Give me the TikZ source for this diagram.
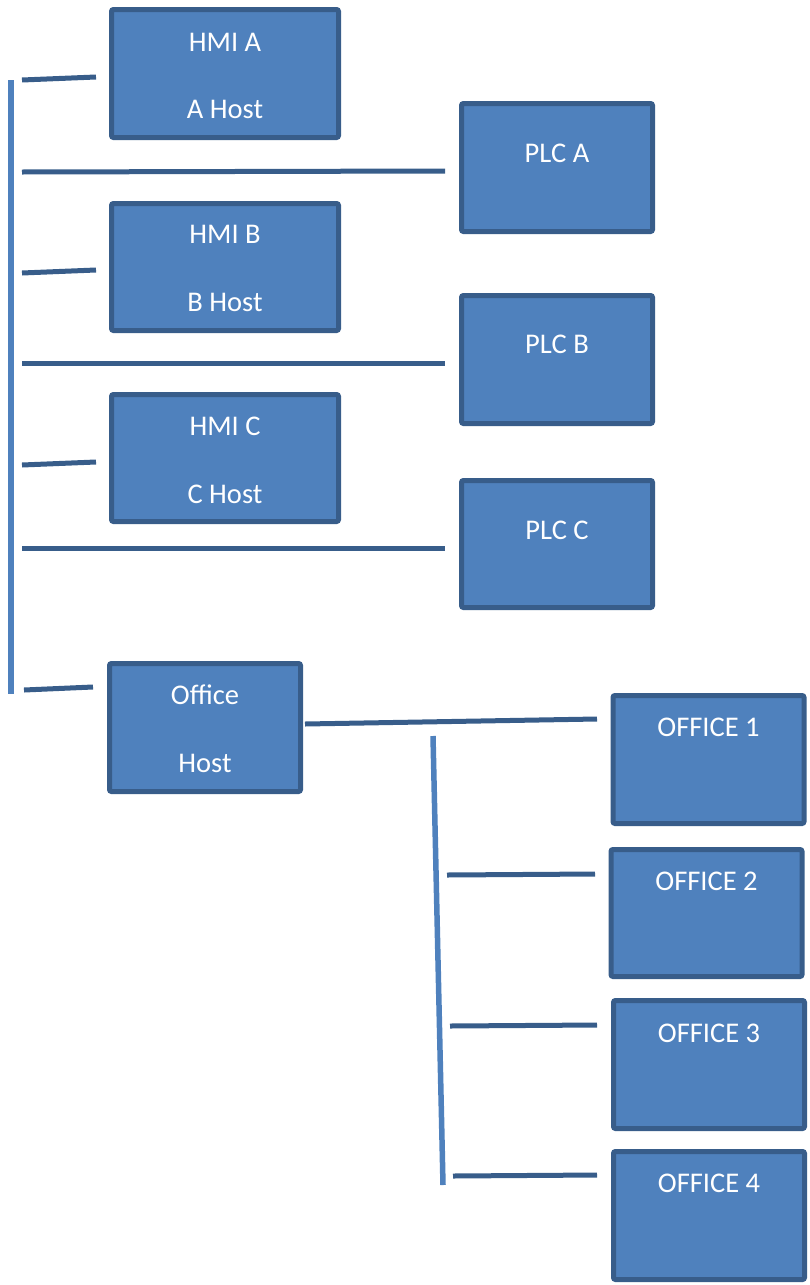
\documentclass[tikz,border=0pt]{standalone}
\usepackage{fontspec}
\setmainfont{Carlito}
\begin{document}
\begin{tikzpicture}[x=1pt,y=-1pt,
  box/.style={draw=edgeblue, fill=fillblue, line width=5pt, rounded corners=2pt,
              inner sep=0pt, minimum width=#1},
  box/.default=227pt,
  txt/.style={text=white, font=\fontsize{28.5}{34}\selectfont, inner sep=0pt},
  link/.style={draw=edgeblue, line width=5pt},
  bus/.style={draw=fillblue, line width=5.5pt}]
\definecolor{fillblue}{HTML}{4F81BD}
\definecolor{edgeblue}{HTML}{385D8A}
\useasboundingbox (0,0) rectangle (809,1285);

% hosts on the left side
\node[box, minimum height=128pt] (hmia) at (225,73.5) {};
\node[box, minimum height=127pt] (hmib) at (225,267) {};
\node[box, minimum height=127pt] (hmic) at (225,458) {};
\node[box=191pt, minimum height=128pt] (office) at (205,727.5) {};

% controllers
\node[box=191pt, minimum height=128pt] (plca) at (557,167.5) {};
\node[box=191pt, minimum height=128pt] (plcb) at (557,359.5) {};
\node[box=191pt, minimum height=127pt] (plcc) at (557,544) {};

% office workstations
\node[box=191pt, minimum height=128pt] (of1) at (708.5,759.5) {};
\node[box=191pt, minimum height=127pt] (of2) at (706.5,913) {};
\node[box=191pt, minimum height=128pt] (of3) at (709,1064.5) {};
\node[box=191pt, minimum height=128pt] (of4) at (709,1215.5) {};

% labels
\node[txt] at ([yshift=-35pt]hmia.north) {HMI A};
\node[txt] at ([yshift=-102pt]hmia.north) {A Host};
\node[txt] at ([yshift=-33pt]hmib.north) {HMI B};
\node[txt] at ([yshift=-101pt]hmib.north) {B Host};
\node[txt] at ([yshift=-34pt]hmic.north) {HMI C};
\node[txt] at ([yshift=-102pt]hmic.north) {C Host};
\node[txt] at ([yshift=-34pt]office.north) {Office};
\node[txt] at ([yshift=-102pt]office.north) {Host};
\node[txt] at ([yshift=-52pt]plca.north) {PLC A};
\node[txt] at ([yshift=-51pt]plcb.north) {PLC B};
\node[txt] at ([yshift=-52pt]plcc.north) {PLC C};
\node[txt] at ([yshift=-34pt]of1.north) {OFFICE 1};
\node[txt] at ([yshift=-34pt]of2.north) {OFFICE 2};
\node[txt] at ([yshift=-35pt]of3.north) {OFFICE 3};
\node[txt] at ([yshift=-34pt]of4.north) {OFFICE 4};

% main bus
\coordinate (busTop) at (11,80);
\coordinate (busBot) at (11,694);
\draw[bus] (busTop) -- (busBot);

% branch stubs off the main bus
\coordinate (sa) at (22,80);   \coordinate (ea) at (96,77);
\coordinate (sp1) at (22,172); \coordinate (ep1) at (445,171);
\coordinate (sb) at (22,273);  \coordinate (eb) at (96,270);
\coordinate (sp2) at (22,363); \coordinate (ep2) at (445,363);
\coordinate (sc) at (22,465);  \coordinate (ec) at (96,462);
\coordinate (sp3) at (22,548); \coordinate (ep3) at (445,548);
\coordinate (so) at (24,690);  \coordinate (eo) at (93,687);
\draw[link] (sa) -- (ea);
\draw[link] (sp1) -- (ep1);
\draw[link] (sb) -- (eb);
\draw[link] (sp2) -- (ep2);
\draw[link] (sc) -- (ec);
\draw[link] (sp3) -- (ep3);
\draw[link] (so) -- (eo);

% office network
\coordinate (oh) at (305,724); \coordinate (e1) at (597,719);
\draw[link] (oh) -- (e1);
\coordinate (obTop) at (433,736);
\coordinate (obBot) at (443,1185);
\draw[bus] (obTop) -- (obBot);
\coordinate (s2) at (447,875);  \coordinate (e2) at (595,874);
\coordinate (s3) at (450,1026); \coordinate (e3) at (597,1025);
\coordinate (s4) at (453,1176); \coordinate (e4) at (597,1175);
\draw[link] (s2) -- (e2);
\draw[link] (s3) -- (e3);
\draw[link] (s4) -- (e4);
\end{tikzpicture}
\end{document}
